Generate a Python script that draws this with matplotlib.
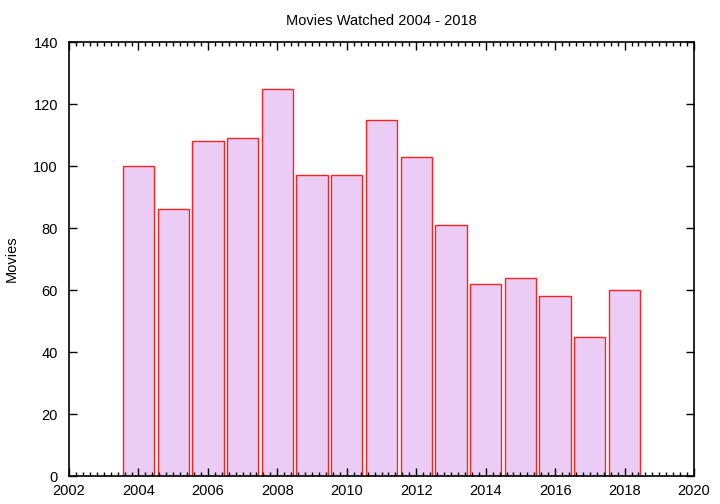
import matplotlib
matplotlib.use("Agg")
import matplotlib.pyplot as plt
from matplotlib.ticker import MultipleLocator

years = [2004, 2005, 2006, 2007, 2008, 2009, 2010, 2011, 2012, 2013, 2014, 2015, 2016, 2017, 2018]
movies = [100, 86, 108, 109, 125, 97, 97, 115, 103, 81, 62, 64, 58, 45, 60]

plt.rcParams['font.family'] = ['Liberation Sans', 'DejaVu Sans']
fig = plt.figure(figsize=(7.2, 5.04), dpi=100)
ax = fig.add_axes([69/720, 28/504, 625/720, 434/504])
ax.bar(years, movies, width=0.9, color='#eaccf5', edgecolor='#ff2020', linewidth=1.0)
ax.set_xlim(2002, 2020)
ax.set_ylim(0, 140)
ax.xaxis.set_major_locator(MultipleLocator(2))
ax.xaxis.set_minor_locator(MultipleLocator(0.2))
ax.yaxis.set_major_locator(MultipleLocator(20))
ax.tick_params(which='both', direction='in', top=True, right=True, labelsize=10.5)
ax.tick_params(which='major', length=6, width=1)
ax.tick_params(which='minor', length=3, width=1)
ax.tick_params(axis='x', which='major', pad=6)
ax.tick_params(axis='y', which='major', pad=8)
ax.set_ylabel('Movies', fontsize=10.5)
ax.yaxis.set_label_coords(-0.08, 0.5)
ax.set_title('Movies Watched 2004 - 2018', fontsize=10.5, pad=12)
for s in ax.spines.values():
    s.set_linewidth(1.2)
fig.savefig('out.png', dpi=100)
